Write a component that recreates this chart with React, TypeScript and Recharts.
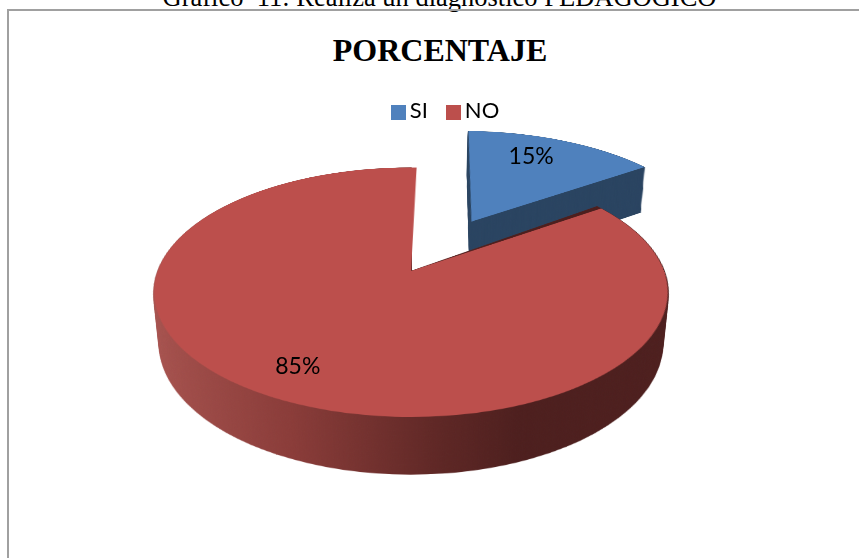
import { PieChart, Pie, Cell, Legend } from "recharts";

const CATEGORIES = ["SI", "NO"];
const PERCENTS = [15, 85];
const TOP_COLORS = ["#4f81bd", "#bc4f4c"];
const WALL_FILLS = ["#2a4461", "url(#noWall)"];
const CAPTION = "Gráfico  11: Realiza un diagnóstico PEDAGOGICO";
const TITLE = "PORCENTAJE";

const slices = CATEGORIES.map((name, i) => ({ name, value: PERCENTS[i], fill: TOP_COLORS[i] }));

// the disc lives on a flat 1000x1000 sheet, tilted back with a css perspective
const SHEET = 1000;
const RADIUS = 253;
const DEPTH = 59;
const STEP = 1.25;
const TILT = "perspective(1304px) rotateX(61.4deg)";
const START_ANGLE = 88.5;
// red wall keeps its cut upright, otherwise a dark sliver shows in the gap
const NO_WALL_START = 90;
const RAD = Math.PI / 180;
const NO_MARGIN = { top: 0, right: 0, bottom: 0, left: 0 };

// each slice is pulled apart from the other one on the sheet
const SI_OFFSET = { x: 65, y: -111 };
const NO_OFFSET = { x: 0, y: 0 };

function Layer({ index, z, offset, top }: { index: number; z: number; offset: { x: number; y: number }; top: boolean }) {
  const fill = top ? TOP_COLORS[index] : WALL_FILLS[index];
  const start = !top && index === 1 ? NO_WALL_START : START_ANGLE;
  return (
    <div
      style={{
        position: "absolute",
        left: 411 - SHEET / 2,
        top: 271 - SHEET / 2,
        width: SHEET,
        height: SHEET,
        transformOrigin: "50% 50%",
        transform: `${TILT} translateZ(${-z}px)`,
      }}
    >
      <PieChart width={SHEET} height={SHEET} margin={NO_MARGIN}>
        <defs>
          <linearGradient id="noWall" x1="0" y1="0" x2="1" y2="0">
            <stop offset="0" stopColor="#a95450" />
            <stop offset="0.3" stopColor="#8a3c39" />
            <stop offset="0.55" stopColor="#5e2725" />
            <stop offset="0.68" stopColor="#4d1f1e" />
            <stop offset="1" stopColor="#4d1f1e" />
          </linearGradient>
        </defs>
        <Pie
          data={slices}
          dataKey="value"
          nameKey="name"
          cx={SHEET / 2 + offset.x}
          cy={SHEET / 2 + offset.y}
          innerRadius={0}
          outerRadius={RADIUS}
          startAngle={start}
          endAngle={start - 360}
          label={false}
          labelLine={false}
          isAnimationActive={false}
        >
          {slices.map((s, i) => (
            <Cell
              key={s.name}
              fill={i === index ? fill : "none"}
              stroke={i === index && !top ? fill : "none"}
              strokeWidth={i === index && !top ? 1.5 : 0}
            />
          ))}
        </Pie>
      </PieChart>
    </div>
  );
}

function Stack({ index, offset }: { index: number; offset: { x: number; y: number } }) {
  const depths: number[] = [];
  for (let z = DEPTH; z > 0; z -= STEP) depths.push(z);
  return (
    <>
      {depths.map((z) => (
        <Layer key={z} index={index} z={z} offset={offset} top={false} />
      ))}
      <Layer index={index} z={0} offset={offset} top />
    </>
  );
}

// percent labels sit on their own ellipse, flat on the screen so the text is not squashed
function percentLabel({ midAngle, name, value }: any) {
  const x = 414.5 + 257 * Math.sin((90 - midAngle) * RAD);
  const y = 260 - 118 * Math.cos((90 - midAngle) * RAD);
  return (
    <text key={name} x={x} y={y} textAnchor="middle" dominantBaseline="central" fill="#000" fontSize={23} fontFamily="Lato">
      {value}%
    </text>
  );
}

export default function App() {
  return (
    <div style={{ position: "fixed", left: 0, top: 0, width: 859, height: 558, overflow: "hidden", background: "#fff" }}>
      <div
        style={{
          position: "absolute",
          left: 0,
          width: 879,
          top: -15,
          textAlign: "center",
          fontFamily: "Liberation Serif",
          fontSize: 26.5,
          lineHeight: "24px",
          color: "#000",
          whiteSpace: "pre",
        }}
      >
        {CAPTION}
      </div>
      <div
        style={{
          position: "absolute",
          left: 7,
          top: 9,
          width: 880,
          height: 600,
          border: "2px solid #a0a0a0",
        }}
      />
      <div
        style={{
          position: "absolute",
          left: 0,
          width: 880,
          top: 32,
          textAlign: "center",
          fontFamily: "Liberation Serif",
          fontWeight: 700,
          fontSize: 32,
          lineHeight: "36px",
          color: "#000",
        }}
      >
        {TITLE}
      </div>

      <Stack index={0} offset={SI_OFFSET} />
      <Stack index={1} offset={NO_OFFSET} />

      <div style={{ position: "absolute", left: 0, top: 0 }}>
        <PieChart width={859} height={558} margin={NO_MARGIN}>
          <Pie
            data={slices}
            dataKey="value"
            nameKey="name"
            cx={414}
            cy={270}
            outerRadius={20}
            startAngle={90}
            endAngle={-270}
            fillOpacity={0}
            stroke="none"
            label={percentLabel}
            labelLine={false}
            isAnimationActive={false}
          />
          <Legend
            layout="horizontal"
            iconType="square"
            iconSize={15}
            itemSorter={null}
            wrapperStyle={{ left: 389, top: 96, width: 130, bottom: "auto", fontFamily: "Lato", fontSize: 22 }}
            formatter={(v: string) => <span style={{ color: "#000", paddingRight: 8 }}>{v}</span>}
          />
        </PieChart>
      </div>
    </div>
  );
}
